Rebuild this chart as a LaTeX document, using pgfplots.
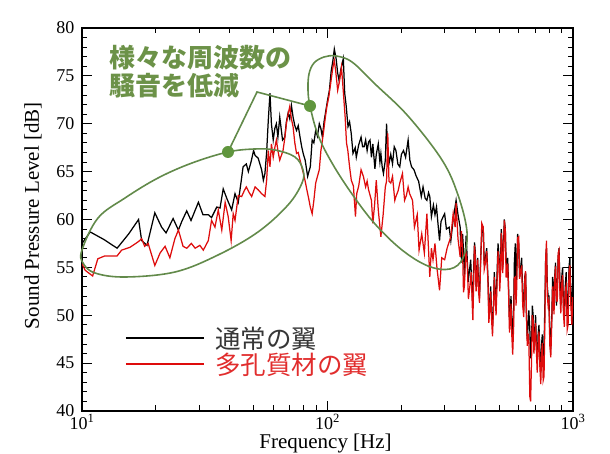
\documentclass[border=0pt]{standalone}
\usepackage{pgfplots}
\pgfplotsset{compat=1.18}
\usepackage{fontspec}
\setmainfont{Liberation Serif}
\newfontfamily\cjk{Noto Sans CJK JP}
\definecolor{ann}{RGB}{108,146,72}
\definecolor{annline}{RGB}{98,138,74}
\definecolor{annDot}{RGB}{96,150,62}
\definecolor{sred}{RGB}{222,12,12}
\definecolor{legblk}{RGB}{55,55,55}
\definecolor{legred}{RGB}{225,45,45}
\begin{document}
\begin{tikzpicture}
\useasboundingbox (0pt,0pt) rectangle (610pt,454pt);
\begin{axis}[
  at={(82pt,43pt)}, anchor=south west,
  width=491pt, height=383pt, scale only axis,
  xmode=log, xmin=10, xmax=1000, ymin=40, ymax=80,
  xtick={10,100,1000},
  xticklabels={10\textsuperscript{1},10\textsuperscript{2},10\textsuperscript{3}},
  minor xtick={20,30,40,50,60,70,80,90,200,300,400,500,600,700,800,900},
  ytick={40,45,...,80}, yticklabels={40,45,50,55,60,65,70,75,80},
  minor y tick num=4,
  tick align=inside, tick pos=both,
  major tick length=10pt, minor tick length=5.5pt,
  every tick/.style={black, line width=0.9pt},
  axis line style={line width=1.3pt},
  ticklabel style={font=\fontsize{18}{18}\selectfont},
  yticklabel style={xshift=-4pt},
  xticklabel style={yshift=0pt},
  xlabel={Frequency [Hz]}, ylabel={Sound Pressure Level [dB]},
  label style={font=\fontsize{21}{21}\selectfont},
  xlabel style={at={(axis description cs:0.496,-0.085)}, anchor=center},
  ylabel style={at={(axis description cs:-0.1,0.51)}, anchor=center},
  legend style={draw=none, fill=none, at={(axis description cs:0.0876,0.226)}, anchor=north west,
    font=\cjk\fontsize{25.5}{27}\selectfont, row sep=-1pt, column sep=9pt, inner sep=0pt},
  legend cell align=left,
  legend image code/.code={\draw[#1] (0pt,0pt) -- (78pt,0pt);},
]
\addplot[black, line width=1.25pt] coordinates {
(10,57.5) (10.8,58.7) (12.3,57.9) (13.9,57.0) (15.5,58.5) (17.0,60.0) (17.5,57.8) (18.4,57.3)
(19.8,60.7) (21.1,59.2) (22.0,58.6) (23.5,60.1) (24.7,58.9) (25.5,59.8) (26.7,60.9) (27.8,59.9)
(29.8,61.8) (31.1,60.5) (32.7,60.5) (33.7,60.2) (35.4,61.3) (36.5,61.2) (37.6,63.2) (38.9,62.2)
(40.7,61.0) (42.0,62.7) (43.3,61.8) (44.5,64.0) (45.3,65.5) (46.7,65.8) (47.6,65.0) (48.8,66.0)
(50.0,67.2) (50.7,66.7) (52.2,66.4) (53.9,65.2) (54.8,64.1) (55.6,64.8) (56.5,67.0) (57.4,70.4)
(58.3,73.2) (59.1,70.0) (60.1,68.3) (61.0,69.5) (61.9,70.0) (62.8,68.6) (63.9,70.7) (65.6,68.3)
(67.0,68.6) (68.0,70.2) (69.1,71.1) (70.2,70.5) (71.3,71.9) (72.4,70.7) (73.6,69.8) (74.8,69.3)
(76.0,69.8) (77.3,68.6) (78.5,67.6) (79.8,66.8) (81.1,66.2) (82.1,65.3) (83.0,64.5) (84.0,65.0)
(85.1,65.5) (86.6,68.3) (88.0,68.0) (89.5,69.3) (91.0,68.7) (92.6,70.0) (94.0,69.5) (95.3,68.6)
(96.8,70.2) (98.5,71.4) (100.1,72.5) (101.8,73.5) (103.5,75.5) (105.2,76.6) (106.6,77.8) (108.4,76.8)
(110.0,75.3) (111.5,74.5) (113.0,75.5) (114.5,76.2) (116.0,76.8) (117.5,73.2) (119.0,72.0) (121.2,69.7)
(123.0,70.2) (124.9,69.0) (127.0,66.9) (129.7,67.5) (131.0,66.5) (134.0,67.8) (137.0,68.6) (139.0,67.6)
(141.0,67.6) (143.0,68.3) (145.0,67.2) (147.0,68.1) (149.0,68.3) (151.0,66.5) (153.0,67.9) (156.0,65.3)
(158.0,66.8) (161.0,67.9) (163.5,66.0) (165.0,66.9) (167.0,65.5) (169.0,64.8) (172.0,66.2) (174.0,70.0)
(176.0,67.0) (178.5,66.0) (181.0,66.8) (184.0,65.8) (187.0,67.6) (190.0,67.2) (193.5,65.8) (197.0,65.5)
(200.0,66.8) (204.0,67.2) (208.0,66.5) (213.0,68.3) (216.5,66.2) (220.0,65.5) (225.0,65.2) (230.0,64.5)
(235.0,64.0) (241.0,62.4) (245.0,63.4) (250.0,62.2) (254.0,62.0) (258.0,62.8) (261.0,62.4) (265.0,60.3)
(270.0,61.5) (274.0,60.5) (278.0,61.3) (282.0,59.5) (286.0,57.8) (290.0,59.8) (296.0,60.3) (300.0,60.6)
(305.0,59.0) (313.0,59.2) (318.0,57.8) (325.0,60.0) (334.0,62.0) (340.0,60.5)
(347,59.2) (349,57.0) (352,55.5) (355,58.5) (358,56.8) (361,54.0) (364,56.1) (367,58.3) (371,55.8)
(374,53.5) (378,54.5) (383,55.8) (389,52.0) (391,51.0) (394,55.0) (397,57.6) (400,56.6) (403,53.0)
(406,54.0) (409,56.0) (412,53.2) (416,52.0) (420,55.5) (425,58.6) (431,59.0) (435,55.2) (440,56.0)
(445,57.0) (451,53.5) (454,50.0) (458,51.0) (462,53.0) (466,50.2) (470,48.9) (475,51.5) (478,54.5)
(482,52.3) (486,51.0) (490,54.0) (495,57.5) (500,56.0) (503,53.5) (507,55.5) (510,59.0) (513,58.0)
(517,55.0) (521,57.0) (525,60.0) (530,59.0) (534,55.5) (538,55.0) (542,56.0) (547,52.5) (551,49.5)
(555,50.0) (559,52.0) (563,49.5) (568,47.5) (573,50.5) (577,55.5) (582,57.5) (586,53.0) (590,55.0)
(595,58.5) (601,57.5) (606,54.0) (612,55.0) (618,56.0) (624,52.0) (630,50.5) (636,54.0) (641,54.5)
(646,50.0) (651,47.5) (656,48.8) (661,50.5) (667,48.5) (672,45.5) (678,47.5) (683,51.0) (688,50.0)
(693,47.0) (699,48.0) (704,50.0) (710,46.5) (715,45.0) (721,48.0) (727,49.0) (733,45.5) (739,44.0)
(745,47.0) (750,48.0) (756,45.0) (762,46.5) (768,51.0) (774,56.0) (780,57.0) (786,53.0) (792,52.0)
(798,52.0) (805,47.5) (812,47.0) (820,50.0) (826,54.0) (832,52.5) (837,51.0) (842,54.0) (849,55.5)
(856,51.0) (863,52.5) (870,56.0) (877,57.0) (885,53.0) (892,51.0) (900,54.0) (907,55.0) (915,50.5)
(922,50.0) (930,53.0) (938,54.5) (947,50.0) (955,51.0) (963,55.0) (971,56.0) (980,52.5) (989,50.0)
(998,53.5)
};
\addlegendentry{\textcolor{legblk}{通常の翼}}
\addplot[sred, line width=1.25pt] coordinates {
(10,55.4) (10.3,54.7) (11.05,54.1) (11.6,55.9) (12.4,56.2) (13.2,56.2) (13.9,56.2) (14.5,56.8)
(15.7,57.1) (17.0,57.7) (17.5,58.0) (18.0,57.2) (18.6,57.5) (19.8,55.2) (20.8,56.5) (21.8,57.2)
(22.8,56.0) (23.9,58.0) (24.7,58.9) (25.8,57.2) (26.7,57.0) (27.9,57.5) (28.9,57.0) (30.2,57.3)
(31.2,56.8) (32.7,57.8) (33.7,59.9) (34.8,59.2) (35.9,61.0) (37.1,58.9) (38.3,61.8) (39.4,60.3)
(40.5,57.8) (41.3,60.6) (42.0,59.9) (43.3,62.5) (44.7,62.4) (45.8,63.0) (46.7,63.4) (48.0,62.8)
(49.1,62.4) (50.7,63.4) (52.2,63.1) (53.9,62.7) (55.6,62.4) (56.5,64.1) (57.4,67.2) (58.3,65.5)
(59.1,67.9) (60.1,66.5) (61.0,67.5) (61.9,68.3) (63.0,67.0) (63.9,66.2) (65.9,67.2) (67.0,68.5)
(68.0,70.0) (69.1,71.0) (70.2,71.8) (71.3,70.5) (72.4,69.7) (73.6,68.0) (74.8,66.9) (76.0,67.0)
(77.3,66.2) (78.5,65.5) (79.8,64.8) (81.1,64.0) (82.4,63.1) (83.8,62.2) (85.1,61.3) (86.6,60.6)
(88.0,62.0) (89.5,63.8) (91.0,64.5) (92.6,65.2) (94.0,67.2) (95.0,68.0) (96.2,69.0) (97.8,70.5)
(99.4,71.8) (101.2,72.8) (103.0,74.2) (105.2,75.9) (106.6,76.6) (108.0,75.5) (110.0,73.5) (112.0,74.5)
(114.0,75.9) (115.5,74.0) (117.0,72.0) (118.0,70.7) (119.5,68.0) (121.0,67.2) (123.0,65.5) (125.0,64.1)
(127.5,63.5) (130.0,60.3) (131.5,62.7) (134.0,63.5) (137.0,65.2) (140.0,64.5) (143.0,63.4) (145.0,64.0)
(147.0,63.1) (151.0,62.0) (153.0,59.6) (155.5,61.5) (158.0,64.1) (161.0,61.0) (165.0,58.2) (168.5,60.5)
(172.0,63.4) (174.0,64.0) (176.0,69.0) (178.0,64.0) (181.0,63.8) (184.0,64.5) (188.0,62.0) (190.0,62.4)
(194.0,63.0) (197.0,63.8) (202.0,64.8) (206.0,62.0) (209.5,62.5) (213.0,63.4) (216.0,62.7) (222.0,62.0)
(226.0,59.2) (232.0,60.5) (236.0,56.8) (242.0,58.5) (248.0,56.5) (254.0,60.6) (261.0,54.0) (265.0,57.0)
(269.0,55.8) (274.0,57.5) (279.0,55.0) (286.0,52.6) (292.0,56.0) (300.0,55.8) (307.0,57.0) (318.0,58.2)
(325.0,60.6) (331.0,59.2) (334.0,61.7) (340.0,58.0)
(347,56.1) (351,58.8) (355,56.8) (358,52.4) (361,53.0) (366,56.7) (371,55.4) (375,51.7) (380,53.0)
(385,54.5) (389,50.9) (391,49.5) (394,53.5) (397,57.3) (400,56.1) (403,52.5) (406,54.0) (409,55.8)
(412,52.6) (416,51.3) (420,55.0) (425,59.6) (431,59.2) (435,54.8) (440,55.5) (445,56.7) (451,53.0)
(454,49.2) (458,50.5) (462,52.5) (466,49.5) (470,47.8) (475,51.0) (478,54.0) (482,52.0) (486,50.0)
(490,53.0) (495,56.7) (500,55.5) (503,52.5) (507,54.5) (510,58.6) (513,57.8) (517,54.4) (521,56.0)
(525,59.9) (530,58.9) (534,54.0) (538,54.0) (542,55.4) (547,51.9) (551,48.2) (555,49.5) (559,51.2)
(563,48.0) (568,45.9) (573,48.8) (577,53.9) (582,54.0) (586,51.0) (590,53.0) (595,58.1) (601,58.2)
(606,53.8) (612,54.5) (618,55.2) (624,51.0) (630,49.8) (636,53.7) (641,54.6) (646,50.5) (651,46.8)
(656,48.1) (661,47.3) (667,41.5) (672,41.0) (678,45.5) (683,50.0) (688,49.5) (693,46.0) (699,47.5)
(704,49.2) (710,46.0) (715,44.0) (721,47.0) (727,48.3) (733,44.6) (739,42.8) (745,46.0) (750,47.1)
(756,43.2) (762,43.6) (768,49.0) (774,55.9) (780,57.8) (786,52.0) (792,51.0) (798,51.4) (805,46.7)
(812,45.6) (820,49.5) (826,53.0) (832,51.5) (837,50.1) (842,53.7) (849,55.1) (856,51.5) (863,51.5)
(870,56.5) (877,56.8) (885,52.0) (892,50.2) (900,53.3) (907,54.2) (915,50.0) (922,48.8) (930,52.6)
(938,53.1) (947,48.5) (955,49.0) (963,54.4) (971,55.2) (980,51.0) (989,49.0) (998,51.9)
};
\addlegendentry{\textcolor{legred}{多孔質材の翼}}
\end{axis}
% annotation ellipses (image pixel coords, y flipped)
\draw[annline, line width=1.6pt] plot[smooth cycle, tension=0.6] coordinates {
(82pt,204pt) (98pt,236pt) (125pt,256pt) (158pt,276pt) (192pt,291pt) (228pt,302pt) (255pt,305pt)
(275pt,304pt) (295pt,297pt) (303pt,284pt) (302pt,271pt) (288pt,249pt) (258pt,222pt) (218pt,199pt)
(175pt,182pt) (125pt,177pt) (95pt,181pt) (83pt,191pt)};
\draw[annline, line width=1.6pt] plot[smooth cycle, tension=0.6] coordinates {
(310pt,348pt) (308pt,364pt) (309pt,380pt) (314pt,391pt) (324pt,397pt) (336pt,398pt) (352pt,392pt)
(375pt,370pt) (408pt,338pt) (442pt,294pt) (458pt,259pt) (467pt,222pt) (463pt,196pt) (450pt,185pt)
(428pt,188pt) (402pt,204pt) (375pt,230pt) (352pt,260pt) (332pt,291pt) (318pt,319pt)};
\draw[annline, line width=1.6pt] (228pt,302pt) -- (257pt,362pt) -- (310pt,348pt);
\fill[annDot] (228pt,302pt) circle (6pt);
\fill[annDot] (310pt,348pt) circle (6pt);
\node[anchor=north west, inner sep=0pt, align=left, text=ann,
  font=\cjk\bfseries\fontsize{26}{28.5}\selectfont] at (109pt,409pt) {様々な周波数の\\騒音を低減};
\end{tikzpicture}
\end{document}
